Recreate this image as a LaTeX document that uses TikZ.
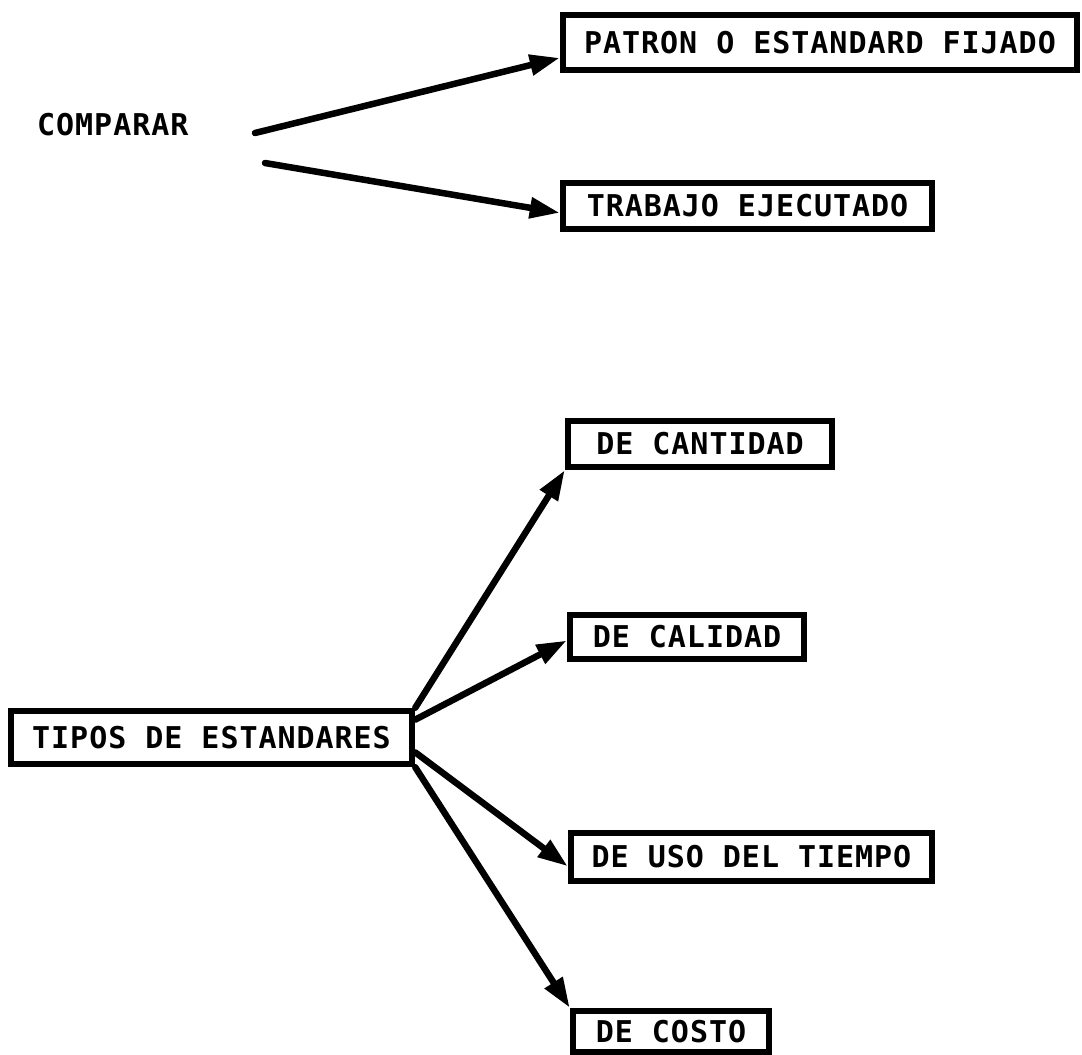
\documentclass[tikz,border=0pt]{standalone}
\usepackage{fontspec}
\newfontfamily\lettering[LetterSpace=3.2]{DejaVu Sans Mono}
\usetikzlibrary{arrows.meta,calc}
\begin{document}
\begin{tikzpicture}[x=1pt,y=-1pt,
  lettertext/.style={font=\lettering\bfseries\fontsize{30}{30}\selectfont, inner sep=0pt},
  framebox/.style={lettertext, draw, line width=6.5pt, rectangle},
  link/.style={line width=6.5pt, line cap=round, -{Triangle[length=30pt,width=20pt]}},
]
\useasboundingbox (0,0) rectangle (1082,1055);

% upper group
\node[lettertext, anchor=west] (cmp) at (37,125) {COMPARAR};
\node[framebox, minimum width=514pt, minimum height=55pt] (patron) at (820,42.5) {PATRON O ESTANDARD FIJADO};
\node[framebox, minimum width=369pt, minimum height=46pt] (trabajo) at (747.5,206) {TRABAJO EJECUTADO};

\coordinate (cmpUp) at (255,133);
\coordinate (cmpDown) at (265,163);
\draw[link] (cmpUp) -- ($(patron.south west)!0.25!(patron.north west)$);
\draw[link] (cmpDown) -- ($(trabajo.south west)!0.37!(trabajo.north west)$);

% lower group
\node[framebox, minimum width=401pt, minimum height=53pt] (tipos) at (211.5,737.5) {TIPOS DE ESTANDARES};
\node[framebox, minimum width=264pt, minimum height=46pt] (cant) at (700,444) {DE CANTIDAD};
\node[framebox, minimum width=234pt, minimum height=44pt] (cal) at (687,637) {DE CALIDAD};
\node[framebox, minimum width=361pt, minimum height=48pt] (uso) at (751.5,857) {DE USO DEL TIEMPO};
\node[framebox, minimum width=196pt, minimum height=41pt] (costo) at (671,1031.5) {DE COSTO};

\draw[link] (tipos.north east) -- (cant.south west);
\draw[link] ($(tipos.north east)!0.2!(tipos.south east)$) -- ($(cal.south west)!0.43!(cal.north west)$);
\draw[link] ($(tipos.north east)!0.75!(tipos.south east)$) -- ($(uso.south west)!0.33!(uso.north west)$);
\draw[link] (tipos.south east) -- (costo.north west);
\end{tikzpicture}
\end{document}
